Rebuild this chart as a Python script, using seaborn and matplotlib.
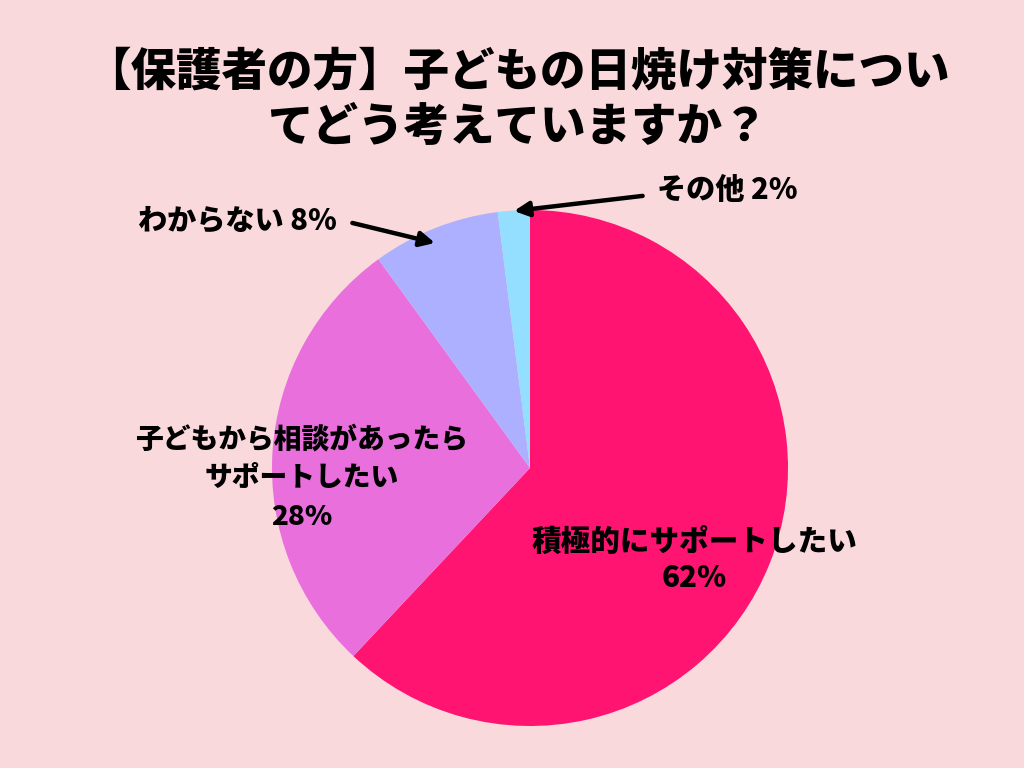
import matplotlib.pyplot as plt
import seaborn as sns

# データ
labels = ['積極的にサポートしたい', '子どもから相談があったら\nサポートしたい', 'わからない', 'その他']
values = [62, 28, 8, 2]
colors = ['#FF1472', '#E86FDC', '#ADB0FF', '#94DEFF']
title_lines = ['【保護者の方】子どもの日焼け対策につい', 'てどう考えていますか？']

BG = '#FAD9DC'
W, H = 1024, 768

sns.set_theme(style='white')
plt.rcParams['font.family'] = ['Noto Sans CJK JP', 'DejaVu Sans']
plt.rcParams['text.color'] = 'black'

fig = plt.figure(figsize=(W / 100, H / 100), dpi=100, facecolor=BG)
ax = fig.add_axes([0, 0, 1, 1])
ax.set_facecolor(BG)

ax.pie(values, colors=colors, startangle=90, counterclock=False,
       center=(530, H - 468), radius=258, wedgeprops=dict(linewidth=0))
ax.set_xlim(0, W)
ax.set_ylim(0, H)
ax.set_aspect('equal')
ax.axis('off')

# タイトル
ax.text(517, H - 72, title_lines[0], ha='center', va='center', fontsize=32.8,
        fontweight='heavy', color='black')
ax.text(517, H - 127, title_lines[1], ha='center', va='center', fontsize=32.8,
        fontweight='heavy', color='black')

# ラベル
ax.text(694, H - 560, f'{labels[0]}\n{values[0]}%', ha='center', va='center',
        fontsize=21.3, fontweight='heavy', linespacing=1.3, color='black')
ax.text(302, H - 478, f'{labels[1]}\n{values[1]}%', ha='center', va='center',
        fontsize=20, fontweight='heavy', linespacing=1.45, color='black')

arrow = dict(arrowstyle='-|>', lw=3.2, color='black', mutation_scale=22)
ax.annotate(f'{labels[2]} {values[2]}%', xy=(435, H - 243), xytext=(237, H - 220),
            ha='center', va='center', fontsize=21, fontweight='heavy', color='black',
            arrowprops=dict(arrow, shrinkA=0, shrinkB=0, patchA=None,
                            relpos=(1.08, 0.4)))
ax.annotate(f'{labels[3]} {values[3]}%', xy=(514, H - 211), xytext=(727, H - 190),
            ha='center', va='center', fontsize=21, fontweight='heavy', color='black',
            arrowprops=dict(arrow, shrinkA=0, shrinkB=0, patchA=None,
                            relpos=(-0.1, 0.3)))

fig.savefig('out.png', dpi=100, facecolor=BG)
